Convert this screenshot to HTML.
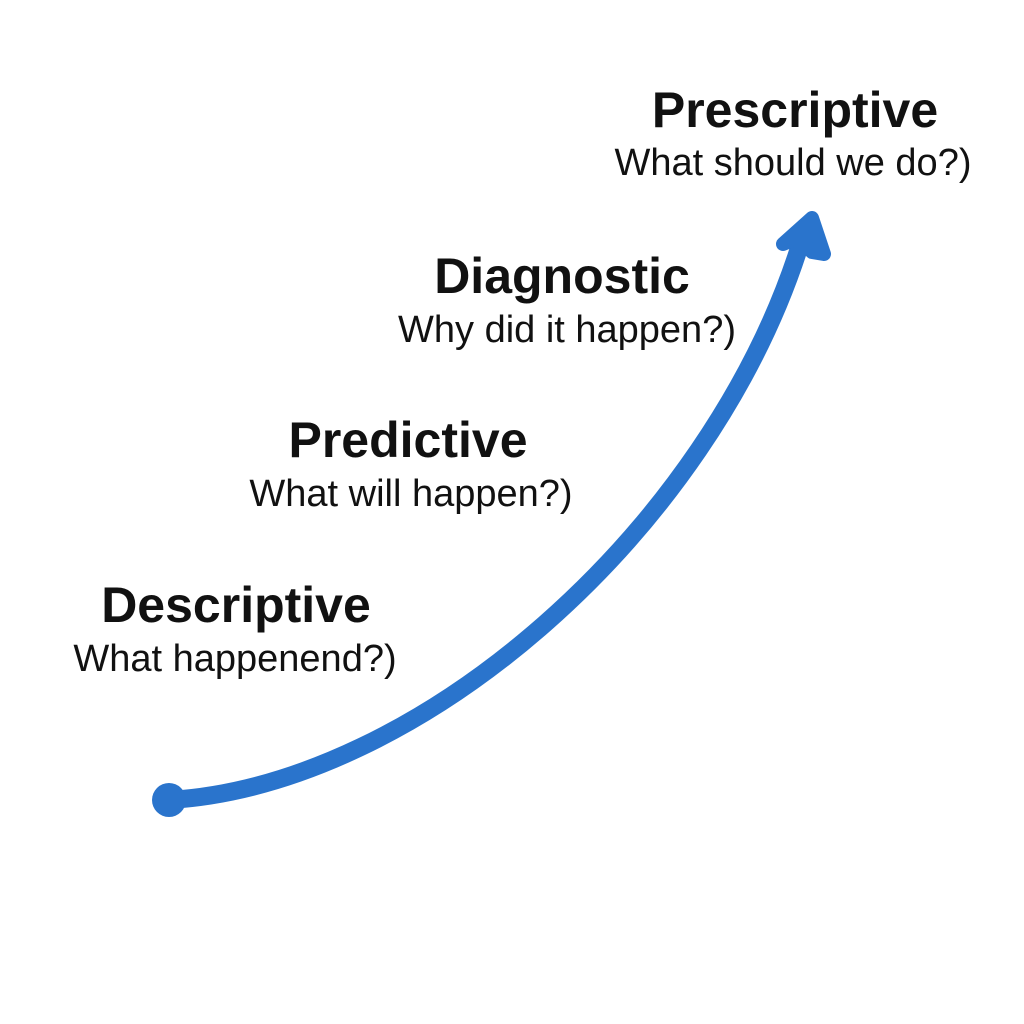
<!DOCTYPE html>
<html><head><style>
html,body{margin:0;padding:0;background:#fff;}
body{width:1024px;height:1024px;position:relative;overflow:hidden;font-family:"Liberation Sans",sans-serif;color:#111;}
.t{position:absolute;transform:translateX(-50%);white-space:nowrap;line-height:1;}
.h{font-weight:bold;font-size:50px;}
.s{font-size:38px;}
</style></head><body>
<svg width="1024" height="1024" style="position:absolute;left:0;top:0">
<path d="M169,800 C420,785 710,530 800,245" fill="none" stroke="#2a74cc" stroke-width="18" stroke-linecap="round"/>
<circle cx="169" cy="800" r="17" fill="#2a74cc"/>
<polygon points="812,218 824,254 812,252 798,238 783,244" fill="#2a74cc" stroke="#2a74cc" stroke-width="14" stroke-linejoin="round"/>
</svg>
<div class="t h" style="left:795px;top:85px">Prescriptive</div>
<div class="t s" style="left:793px;top:144px">What should we do?)</div>
<div class="t h" style="left:562px;top:251px">Diagnostic</div>
<div class="t s" style="left:567px;top:311px">Why did it happen?)</div>
<div class="t h" style="left:408px;top:415px">Predictive</div>
<div class="t s" style="left:411px;top:475px">What will happen?)</div>
<div class="t h" style="left:236px;top:580px">Descriptive</div>
<div class="t s" style="left:235px;top:640px">What happenend?)</div>
</body></html>
